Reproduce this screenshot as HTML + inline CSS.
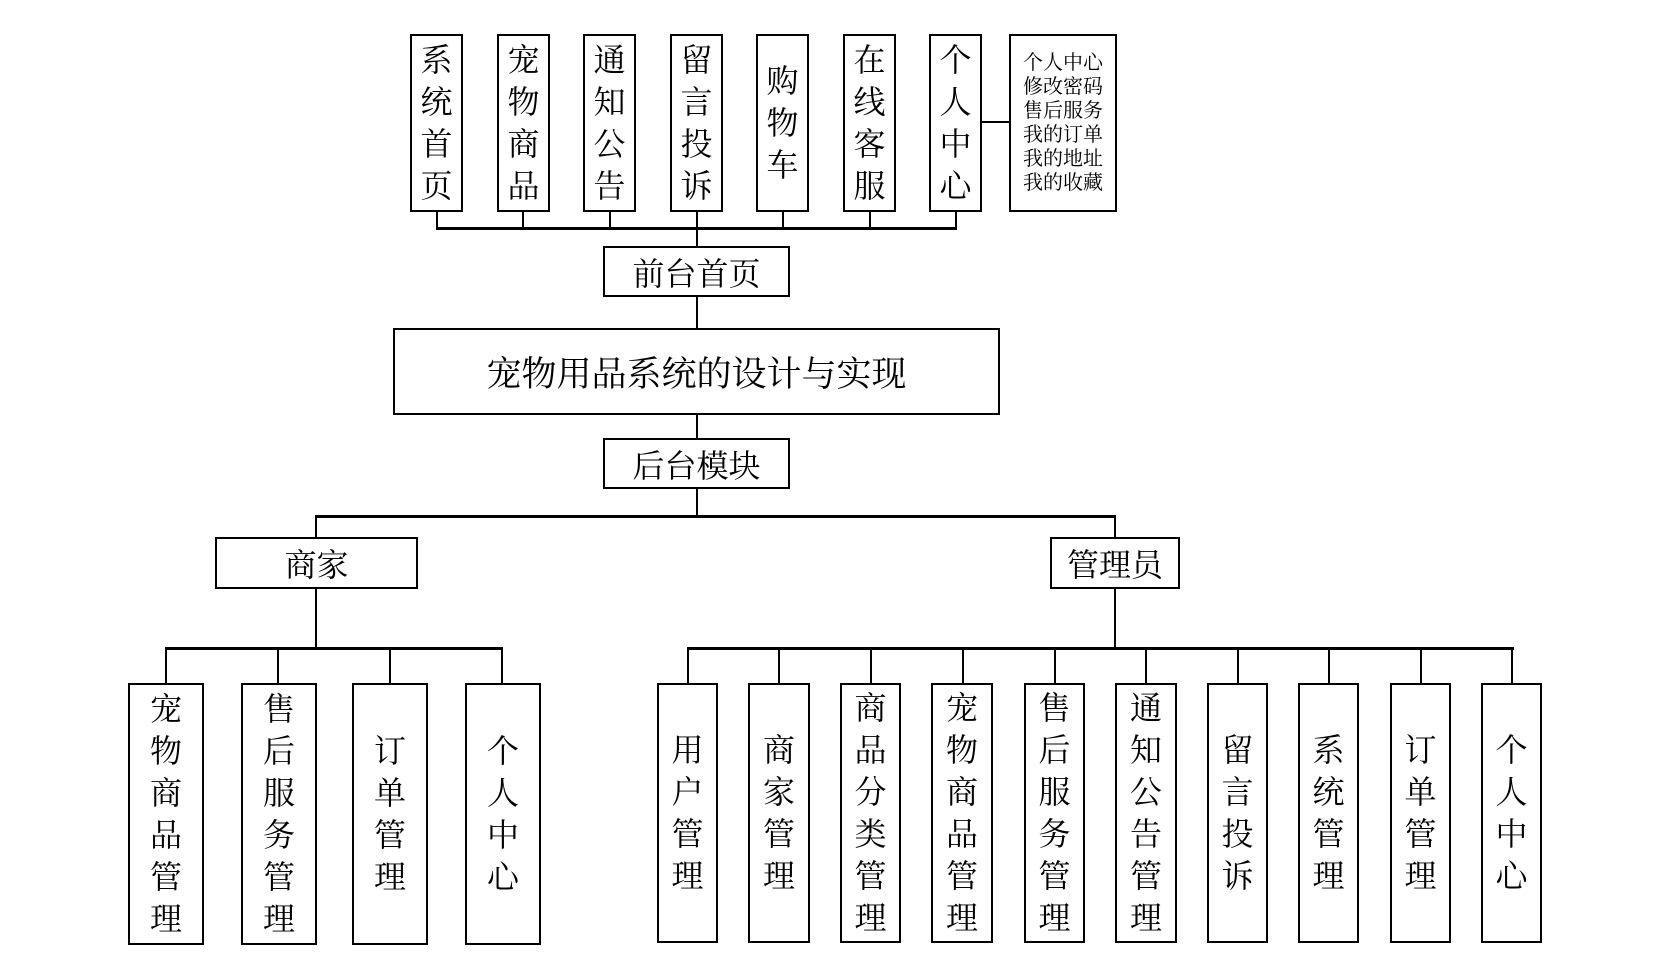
<!DOCTYPE html>
<html><head><meta charset="utf-8"><style>
body{margin:0;width:1669px;height:961px;background:#fff;position:relative;overflow:hidden;font-family:"Liberation Serif","Noto Serif CJK SC",serif;color:#000}
.b{position:absolute;border:2px solid #000;box-sizing:border-box;display:flex;align-items:center;justify-content:center;text-align:center;background:#fff}
.v{flex-direction:column;font-size:32px;line-height:42px}
.l{position:absolute;background:#000}
</style></head><body>
<!-- top boxes -->
<div class="b v" style="left:410px;top:34px;width:53px;height:178px">系<br>统<br>首<br>页</div>
<div class="b v" style="left:497px;top:34px;width:53px;height:178px">宠<br>物<br>商<br>品</div>
<div class="b v" style="left:583px;top:34px;width:53px;height:178px">通<br>知<br>公<br>告</div>
<div class="b v" style="left:670px;top:34px;width:53px;height:178px">留<br>言<br>投<br>诉</div>
<div class="b v" style="left:756px;top:34px;width:53px;height:178px">购<br>物<br>车</div>
<div class="b v" style="left:843px;top:34px;width:53px;height:178px">在<br>线<br>客<br>服</div>
<div class="b v" style="left:929px;top:34px;width:53px;height:178px">个<br>人<br>中<br>心</div>
<div class="b" style="left:1009px;top:34px;width:108px;height:178px;font-size:20px;line-height:24px">个人中心<br>修改密码<br>售后服务<br>我的订单<br>我的地址<br>我的收藏</div>
<div class="l" style="left:982px;top:121px;width:27px;height:2px"></div>
<!-- top bus -->
<div class="l" style="left:436px;top:227px;width:521px;height:3px"></div>
<div class="l" style="left:436px;top:211px;width:2px;height:17px"></div>
<div class="l" style="left:522px;top:211px;width:2px;height:17px"></div>
<div class="l" style="left:609px;top:211px;width:2px;height:17px"></div>
<div class="l" style="left:696px;top:211px;width:2px;height:17px"></div>
<div class="l" style="left:782px;top:211px;width:2px;height:17px"></div>
<div class="l" style="left:869px;top:211px;width:2px;height:17px"></div>
<div class="l" style="left:955px;top:211px;width:2px;height:17px"></div>
<div class="l" style="left:696px;top:228px;width:2px;height:210px"></div>
<div class="b" style="left:603px;top:246px;width:187px;height:51px;font-size:32px">前台首页</div>
<div class="b" style="left:393px;top:328px;width:607px;height:87px;font-size:35px">宠物用品系统的设计与实现</div>
<div class="b" style="left:603px;top:438px;width:187px;height:51px;font-size:32px">后台模块</div>
<div class="l" style="left:696px;top:488px;width:2px;height:29px"></div>
<div class="l" style="left:315px;top:515px;width:801px;height:3px"></div>
<div class="l" style="left:315px;top:516px;width:2px;height:22px"></div>
<div class="l" style="left:1114px;top:516px;width:2px;height:22px"></div>
<div class="b" style="left:215px;top:537px;width:203px;height:52px;font-size:32px">商家</div>
<div class="b" style="left:1050px;top:537px;width:130px;height:52px;font-size:32px">管理员</div>
<div class="l" style="left:315px;top:588px;width:2px;height:60px"></div>
<div class="l" style="left:1114px;top:588px;width:2px;height:60px"></div>
<!-- merchant -->
<div class="l" style="left:165px;top:647px;width:338px;height:3px"></div>
<div class="l" style="left:165px;top:648px;width:2px;height:36px"></div>
<div class="l" style="left:277px;top:648px;width:2px;height:36px"></div>
<div class="l" style="left:389px;top:648px;width:2px;height:36px"></div>
<div class="l" style="left:501px;top:648px;width:2px;height:36px"></div>
<div class="b v" style="left:128px;top:683px;width:76px;height:262px">宠<br>物<br>商<br>品<br>管<br>理</div>
<div class="b v" style="left:241px;top:683px;width:76px;height:262px">售<br>后<br>服<br>务<br>管<br>理</div>
<div class="b v" style="left:352px;top:683px;width:76px;height:262px">订<br>单<br>管<br>理</div>
<div class="b v" style="left:465px;top:683px;width:76px;height:262px">个<br>人<br>中<br>心</div>
<!-- admin -->
<div class="l" style="left:687px;top:647px;width:827px;height:3px"></div>
<div class="l" style="left:687px;top:648px;width:2px;height:36px"></div>
<div class="l" style="left:778px;top:648px;width:2px;height:36px"></div>
<div class="l" style="left:870px;top:648px;width:2px;height:36px"></div>
<div class="l" style="left:962px;top:648px;width:2px;height:36px"></div>
<div class="l" style="left:1054px;top:648px;width:2px;height:36px"></div>
<div class="l" style="left:1145px;top:648px;width:2px;height:36px"></div>
<div class="l" style="left:1237px;top:648px;width:2px;height:36px"></div>
<div class="l" style="left:1328px;top:648px;width:2px;height:36px"></div>
<div class="l" style="left:1420px;top:648px;width:2px;height:36px"></div>
<div class="l" style="left:1511px;top:648px;width:2px;height:36px"></div>
<div class="b v" style="left:657px;top:683px;width:61px;height:260px">用<br>户<br>管<br>理</div>
<div class="b v" style="left:748px;top:683px;width:62px;height:260px">商<br>家<br>管<br>理</div>
<div class="b v" style="left:840px;top:683px;width:61px;height:260px">商<br>品<br>分<br>类<br>管<br>理</div>
<div class="b v" style="left:931px;top:683px;width:62px;height:260px">宠<br>物<br>商<br>品<br>管<br>理</div>
<div class="b v" style="left:1024px;top:683px;width:61px;height:260px">售<br>后<br>服<br>务<br>管<br>理</div>
<div class="b v" style="left:1115px;top:683px;width:62px;height:260px">通<br>知<br>公<br>告<br>管<br>理</div>
<div class="b v" style="left:1207px;top:683px;width:61px;height:260px">留<br>言<br>投<br>诉</div>
<div class="b v" style="left:1298px;top:683px;width:61px;height:260px">系<br>统<br>管<br>理</div>
<div class="b v" style="left:1390px;top:683px;width:61px;height:260px">订<br>单<br>管<br>理</div>
<div class="b v" style="left:1481px;top:683px;width:61px;height:260px">个<br>人<br>中<br>心</div>
</body></html>
